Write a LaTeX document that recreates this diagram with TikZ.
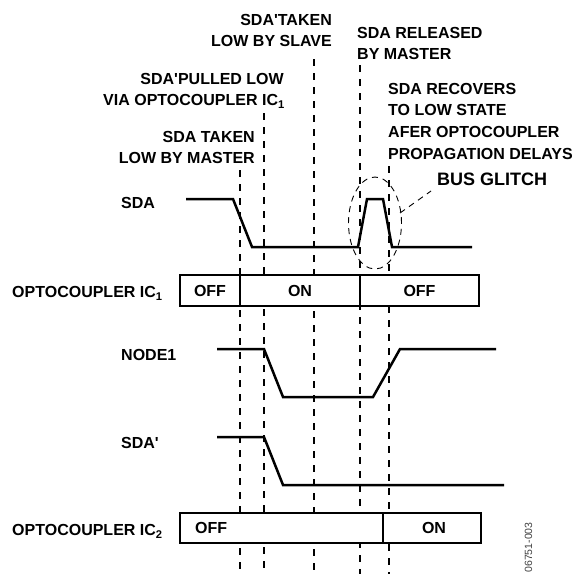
\documentclass[tikz,border=0pt]{standalone}
\usepackage{fontspec}
\setmainfont{Liberation Sans}
\usetikzlibrary{shapes.geometric}
\begin{document}
\begin{tikzpicture}[x=1pt,y=-1pt]
\tikzset{
  lbl/.style={font=\fontsize{16}{19}\selectfont\bfseries, inner sep=0pt},
  biglbl/.style={font=\fontsize{18}{22}\selectfont\bfseries, inner sep=0pt},
  sig/.style={line width=2.5pt},
  boxline/.style={draw, line width=1.6pt, fill=white},
  divider/.style={line width=1.2pt},
  guide/.style={line width=1.1pt, dash pattern=on 7pt off 7pt},
  thinguide/.style={line width=0.9pt, dash pattern=on 6pt off 5pt},
}
\useasboundingbox (0,0) rectangle (577,574);

% top annotations
\node[lbl, anchor=base east] (ta1) at (332,25.7) {SDA\textquotesingle TAKEN};
\node[lbl, anchor=base east] (ta2) at (332,46.7) {LOW BY SLAVE};
\node[lbl, anchor=base west] (rb1) at (357,38.7) {SDA RELEASED};
\node[lbl, anchor=base west] (rb2) at (357,59.7) {BY MASTER};
\node[lbl, anchor=base east] (pl1) at (284,84.7) {SDA\textquotesingle PULLED LOW};
\node[lbl, anchor=base east] (pl2) at (285,105.7) {VIA OPTOCOUPLER IC\textsubscript{1}};
\node[lbl, anchor=base west] (rc1) at (388,94.4) {SDA RECOVERS};
\node[lbl, anchor=base west] (rc2) at (388,115.7) {TO LOW STATE};
\node[lbl, anchor=base west] (rc3) at (388,137.7) {AFER OPTOCOUPLER};
\node[lbl, anchor=base west] (rc4) at (388,159.2) {PROPAGATION DELAYS};
\node[lbl, anchor=base east] (tm1) at (255,142.7) {SDA TAKEN};
\node[lbl, anchor=base east] (tm2) at (255,163.7) {LOW BY MASTER};
\node[biglbl, anchor=base west] (bg) at (437,185.5) {BUS GLITCH};

% row labels
\node[lbl, anchor=base west] (lsda) at (121,208.7) {SDA};
\node[lbl, anchor=base west] (lic1) at (12,297.7) {OPTOCOUPLER IC\textsubscript{1}};
\node[lbl, anchor=base west] (lnode) at (121,360.7) {NODE1};
\node[lbl, anchor=base west] (lsdap) at (121,448.7) {SDA\textquotesingle};
\node[lbl, anchor=base west] (lic2) at (12,535.7) {OPTOCOUPLER IC\textsubscript{2}};

% vertical dashed guides
\coordinate (g1t) at (240,170); \coordinate (g1b) at (240,574);
\coordinate (g2t) at (264,113); \coordinate (g2b) at (264,574);
\coordinate (g3t) at (314,59);  \coordinate (g3b) at (314,574);
\coordinate (g4t) at (360,65);  \coordinate (g4b) at (360,574);
\coordinate (g5t) at (389,166); \coordinate (g5b) at (389,574);
\draw[guide] (g1t) -- (g1b);
\draw[guide] (g2t) -- (g2b);
\draw[guide] (g3t) -- (g3b);
\draw[guide] (g4t) -- (g4b);
\draw[guide] (g5t) -- (g5b);

% SDA waveform
\draw[sig] (186,199) -- (233,199) -- (252,247) -- (358,247) -- (367,199)
  -- (383,199) -- (392,247) -- (472,247);

% glitch ellipse and leader
\node[draw, thinguide, ellipse, minimum width=53pt, minimum height=92pt, inner sep=0pt] (gl) at (375,223) {};
\coordinate (ld) at (431,191);
\draw[thinguide] (400,213) -- (ld);

% optocoupler IC1 box
\draw[boxline] (180,275) rectangle (479,306);
\draw[divider] (240,275) -- (240,306);
\draw[divider] (360,275) -- (360,306);
\node[lbl, anchor=base] (b1a) at (210,296.2) {OFF};
\node[lbl, anchor=base] (b1b) at (300,296.2) {ON};
\node[lbl, anchor=base] (b1c) at (419.5,296.2) {OFF};

% NODE1 waveform
\draw[sig] (217,349) -- (264,349) -- (283,397) -- (373,397) -- (400,349) -- (496,349);

% SDA' waveform
\draw[sig] (217,437) -- (264,437) -- (283,485) -- (504,485);

% optocoupler IC2 box
\draw[boxline] (180,513) rectangle (481,543);
\draw[divider] (383,513) -- (383,543);
\node[lbl, anchor=base west] (b2a) at (195,533.7) {OFF};
\node[lbl, anchor=base] (b2b) at (434,533.7) {ON};

% figure code
\node[font=\fontsize{10.5}{12}\selectfont, text=black!75, rotate=90, inner sep=0pt] (code) at (528.5,547.5) {06751-003};
\end{tikzpicture}
\end{document}
